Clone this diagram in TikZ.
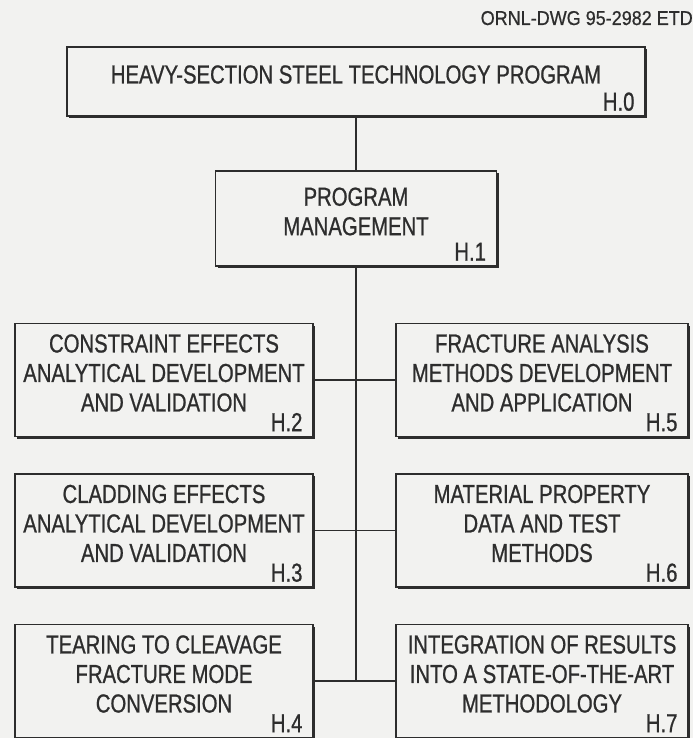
\documentclass[tikz,border=0pt]{standalone}
\usepackage{fontspec}
\setmainfont{Liberation Sans}[FakeStretch=0.78,FakeBold=0.8]
\newfontfamily\dwgfont{Liberation Sans}[FakeStretch=0.9,FakeBold=0.6]
\usetikzlibrary{shadows}
\definecolor{paper}{RGB}{242,242,240}
\definecolor{ink}{RGB}{45,45,45}

\begin{document}
\begin{tikzpicture}[x=1pt,y=-1pt]
\def\trunk{356}
\def\colL{164}
\def\colR{542}
\tikzstyle{hbox} = [draw=ink,line width=1.3pt,fill=paper,inner sep=0pt,
  drop shadow={shadow xshift=2.4pt,shadow yshift=-2.4pt,fill=ink,opacity=1}]
\tikzstyle{sidebox} = [hbox,minimum height=113pt]
\tikzstyle{htext} = [ink,align=center,inner sep=0pt,font=\fontsize{26}{29.5}\selectfont]
\tikzstyle{hid} = [ink,inner sep=0pt,font=\fontsize{26}{29}\selectfont,anchor=base east]
\tikzstyle{wire} = [ink,line width=1.6pt]
  \useasboundingbox[fill=paper] (0,0) rectangle (693,738);
  \node[ink,inner sep=0pt,anchor=base east,font=\dwgfont\fontsize{20}{22}\selectfont] (dwg) at (693,25) {ORNL-DWG 95-2982 ETD};
  %boxes
  \node[hbox,minimum width=578pt,minimum height=69pt] (h0) at (\trunk,81.5) {};
  \node[hbox,minimum width=281pt,minimum height=95pt] (h1) at (\trunk,218.5) {};
    \node[sidebox,minimum width=298pt] (h2) at (\colL,380) {};
    \node[sidebox,minimum width=298pt] (h3) at (\colL,530.5) {};
    \node[sidebox,minimum width=298pt] (h4) at (\colL,681) {};
    \node[sidebox,minimum width=292pt] (h5) at (\colR,380) {};
    \node[sidebox,minimum width=292pt] (h6) at (\colR,530.5) {};
    \node[sidebox,minimum width=292pt] (h7) at (\colR,681) {};
  %lines
  \coordinate (bus) at (\trunk,681);
  \draw[wire] (h0) -- (h1);
  \draw[wire] (h1) -- (bus);
  \draw[wire] (h2) -- (h5);
  \draw[wire] (h3) -- (h6);
  \draw[wire] (h4) -- (h7);
  %texts
  \node[htext] (h0txt) at ([yshift=7pt]h0.center) {HEAVY-SECTION STEEL TECHNOLOGY PROGRAM};
  \node[htext] (h1txt) at ([yshift=7pt]h1.center) {PROGRAM\\MANAGEMENT};
  \node[htext] (h2txt) at ([yshift=7pt]h2.center) {CONSTRAINT EFFECTS\\ANALYTICAL DEVELOPMENT\\AND VALIDATION};
  \node[htext] (h3txt) at ([yshift=7pt]h3.center) {CLADDING EFFECTS\\ANALYTICAL DEVELOPMENT\\AND VALIDATION};
  \node[htext] (h4txt) at ([yshift=7pt]h4.center) {TEARING TO CLEAVAGE\\FRACTURE MODE\\CONVERSION};
  \node[htext] (h5txt) at ([yshift=7pt]h5.center) {FRACTURE ANALYSIS\\METHODS DEVELOPMENT\\AND APPLICATION};
  \node[htext] (h6txt) at ([yshift=7pt]h6.center) {MATERIAL PROPERTY\\DATA AND TEST\\METHODS};
  \node[htext] (h7txt) at ([yshift=7pt]h7.center) {INTEGRATION OF RESULTS\\INTO A STATE-OF-THE-ART\\METHODOLOGY};
  %numbers
  \foreach \n in {0,...,7}
    \node[hid] (h\n id) at ([xshift=-11pt,yshift=6pt]h\n.south east) {H.\n};
\end{tikzpicture}
\end{document}
